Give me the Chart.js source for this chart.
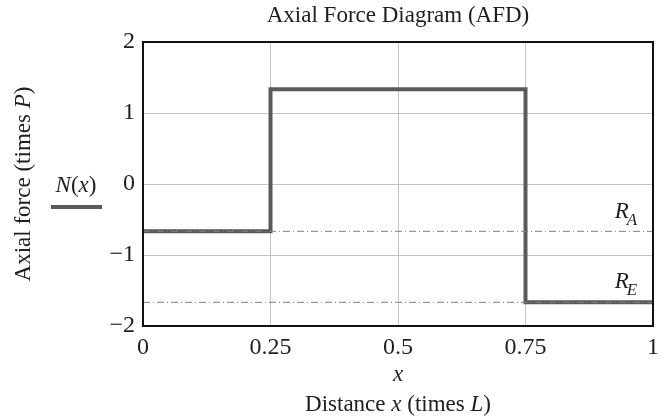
<!DOCTYPE html>
<html>
<head>
<meta charset="utf-8">
<script src="https://cdn.jsdelivr.net/npm/chart.js@4.4.0/dist/chart.umd.min.js"></script>
<style>
  html, body { margin: 0; padding: 0; background: #fff; }
  #wrap { width: 662px; height: 416px; position: relative; }
</style>
</head>
<body>
<div id="wrap"><canvas id="afd" width="662" height="416"></canvas></div>
<script>
// axial force N(x), step diagram (x in L, N in P)
const xPoints = [0, 0.25, 0.25, 0.75, 0.75, 1];
const nValues = [-2 / 3, -2 / 3, 4 / 3, 4 / 3, -5 / 3, -5 / 3];

// reaction reference lines
const refX = [0, 1];
const raValues = [-2 / 3, -2 / 3];
const reValues = [-5 / 3, -5 / 3];

const xTicks = [0, 0.25, 0.5, 0.75, 1];
const yTicks = [-2, -1, 0, 1, 2];

const SERIF = '"Liberation Serif", "DejaVu Serif", serif';
const INK = "#1e1e1e";
const LINE = "#5a5a5a";

const pts = (xs, ys) => xs.map((x, i) => ({ x, y: ys[i] }));

// draw runs of text with different styles: [[text, italic], ...]
function drawRuns(ctx, runs, cx, cy, size) {
  let total = 0;
  for (const r of runs) {
    ctx.font = (r[1] ? "italic " : "") + size + "px " + SERIF;
    total += ctx.measureText(r[0]).width;
  }
  let x = cx - total / 2;
  ctx.textAlign = "left";
  ctx.textBaseline = "middle";
  for (const r of runs) {
    ctx.font = (r[1] ? "italic " : "") + size + "px " + SERIF;
    ctx.fillText(r[0], x, cy);
    x += ctx.measureText(r[0]).width;
  }
}

function drawSub(ctx, main, sub, x, y) {
  ctx.textAlign = "left";
  ctx.textBaseline = "middle";
  ctx.font = "italic 23px " + SERIF;
  ctx.fillText(main, x, y);
  const w = ctx.measureText(main).width;
  ctx.font = "italic 17px " + SERIF;
  ctx.fillText(sub, x + w - 2, y + 8);
}

const decor = {
  id: "decor",
  afterDatasetsDraw(chart) {
    const { ctx, chartArea: a, scales } = chart;
    ctx.save();
    // frame
    ctx.strokeStyle = "#111";
    ctx.lineWidth = 2;
    ctx.strokeRect(a.left, a.top, a.right - a.left, a.bottom - a.top);

    ctx.fillStyle = INK;
    const cx = (a.left + a.right) / 2;
    drawRuns(ctx, [["Axial Force Diagram (AFD)", false]], cx, 16, 23);
    drawRuns(ctx, [["x", true]], cx, 375, 23);
    drawRuns(ctx, [["Distance ", false], ["x", true], [" (times ", false], ["L", true], [")", false]], cx, 405, 23);

    // y title
    ctx.save();
    ctx.translate(24, (a.top + a.bottom) / 2);
    ctx.rotate(-Math.PI / 2);
    drawRuns(ctx, [["Axial force (times ", false], ["P", true], [")", false]], 0, 0, 23);
    ctx.restore();

    // legend
    drawRuns(ctx, [["N", true], ["(", false], ["x", true], [")", false]], 76, 186, 23);
    ctx.strokeStyle = LINE;
    ctx.lineWidth = 4;
    ctx.beginPath();
    ctx.moveTo(51, 207);
    ctx.lineTo(102, 207);
    ctx.stroke();

    // reaction labels
    ctx.fillStyle = INK;
    const lx = scales.x.getPixelForValue(0.925);
    drawSub(ctx, "R", "A", lx, scales.y.getPixelForValue(raValues[0]) - 19);
    drawSub(ctx, "R", "E", lx, scales.y.getPixelForValue(reValues[0]) - 20);
    ctx.restore();
  },
};

new Chart(document.getElementById("afd"), {
  type: "scatter",
  data: {
    datasets: [
      {
        label: "R_A",
        data: pts(refX, raValues),
        showLine: true,
        borderColor: "#808080",
        borderWidth: 1,
        borderDash: [7, 3, 1, 3],
        pointRadius: 0,
      },
      {
        label: "R_E",
        data: pts(refX, reValues),
        showLine: true,
        borderColor: "#808080",
        borderWidth: 1,
        borderDash: [7, 3, 1, 3],
        pointRadius: 0,
      },
      {
        label: "N(x)",
        data: pts(xPoints, nValues),
        showLine: true,
        borderColor: LINE,
        borderWidth: 4,
        borderJoinStyle: "miter",
        pointRadius: 0,
        tension: 0,
      },
    ],
  },
  options: {
    responsive: false,
    animation: false,
    devicePixelRatio: 1,
    layout: { padding: { top: 42, right: 9, left: 0, bottom: 0 } },
    plugins: { legend: { display: false }, tooltip: { enabled: false }, title: { display: false } },
    scales: {
      x: {
        type: "linear",
        min: 0,
        max: 1,
        afterBuildTicks: (s) => { s.ticks = xTicks.map((v) => ({ value: v })); },
        afterFit: (s) => { s.height = 90; s.paddingLeft = 0; s.paddingRight = 0; },
        grid: { color: "#c4c4c4", lineWidth: 1, drawTicks: false },
        border: { display: false },
        ticks: {
          padding: 7,
          maxRotation: 0,
          minRotation: 0,
          color: INK,
          font: { family: SERIF, size: 24 },
          callback: (v) => String(v),
        },
      },
      y: {
        min: -2,
        max: 2,
        afterBuildTicks: (s) => { s.ticks = yTicks.map((v) => ({ value: v })); },
        afterFit: (s) => { s.width = 143; s.paddingTop = 0; s.paddingBottom = 0; },
        grid: { color: "#c4c4c4", lineWidth: 1, drawTicks: false },
        border: { display: false },
        ticks: {
          padding: 8,
          color: INK,
          font: { family: SERIF, size: 24 },
          callback: (v) => String(v).replace("-", "\u2212"),
        },
      },
    },
  },
  plugins: [decor],
});
</script>
</body>
</html>
